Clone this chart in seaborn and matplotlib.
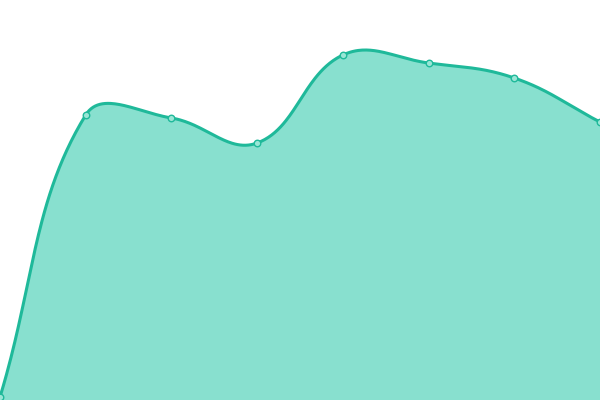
import numpy as np
import pandas as pd
import matplotlib
matplotlib.use("Agg")
import matplotlib.pyplot as plt
import seaborn as sns

# Data (y axis 0..400)
categories = [0, 1, 2, 3, 4, 5, 6, 7]
values = [3, 285, 282, 257, 345, 337, 322, 278]

LINE = "#1fb99a"
FILL = "#88e0cf"
W, H = 600, 400
XMAX, YMAX = 7, 400


def spline_curve(xd, yd, tension=0.4, n=60):
    # work in pixel space so the smoothing is isotropic
    P = np.column_stack([np.asarray(xd, float) * W / XMAX,
                         np.asarray(yd, float) * H / YMAX])
    k = len(P)
    prev_cp, next_cp = [], []
    for i in range(k):
        a = P[i - 1] if i > 0 else P[i]
        b = P[i]
        c = P[i + 1] if i < k - 1 else P[i]
        d01 = np.linalg.norm(b - a)
        d12 = np.linalg.norm(c - b)
        s = d01 + d12
        s01, s12 = d01 / s, d12 / s
        prev_cp.append(b - tension * s01 * (c - a))
        next_cp.append(b + tension * s12 * (c - a))
    out = [P[0][None, :]]
    t = np.linspace(0, 1, n)[1:, None]
    for i in range(k - 1):
        p0, c0, c1, p1 = P[i], next_cp[i], prev_cp[i + 1], P[i + 1]
        seg = ((1 - t) ** 3 * p0 + 3 * (1 - t) ** 2 * t * c0
               + 3 * (1 - t) * t ** 2 * c1 + t ** 3 * p1)
        out.append(seg)
    pts = np.vstack(out)
    return pts[:, 0] * XMAX / W, pts[:, 1] * YMAX / H


sns.set_theme(style="white")
fig = plt.figure(figsize=(6, 4), dpi=100)
ax = fig.add_axes([0, 0, 1, 1])

xs, ys = spline_curve(categories, values)
curve = pd.DataFrame({"x": xs, "y": ys})
pts = pd.DataFrame({"x": categories, "y": values})

ax.fill_between(curve["x"], 0, curve["y"], color=FILL, linewidth=0, zorder=1)
sns.lineplot(data=curve, x="x", y="y", ax=ax, color=LINE, linewidth=2.2,
             zorder=2, estimator=None, sort=False)
sns.scatterplot(data=pts, x="x", y="y", ax=ax, s=22, color="#9ae6d6",
                edgecolor=LINE, linewidth=1.0, zorder=3, clip_on=False)

ax.set_xlim(0, XMAX)
ax.set_ylim(0, YMAX)
ax.set_axis_off()
fig.savefig("out.png", dpi=100)
